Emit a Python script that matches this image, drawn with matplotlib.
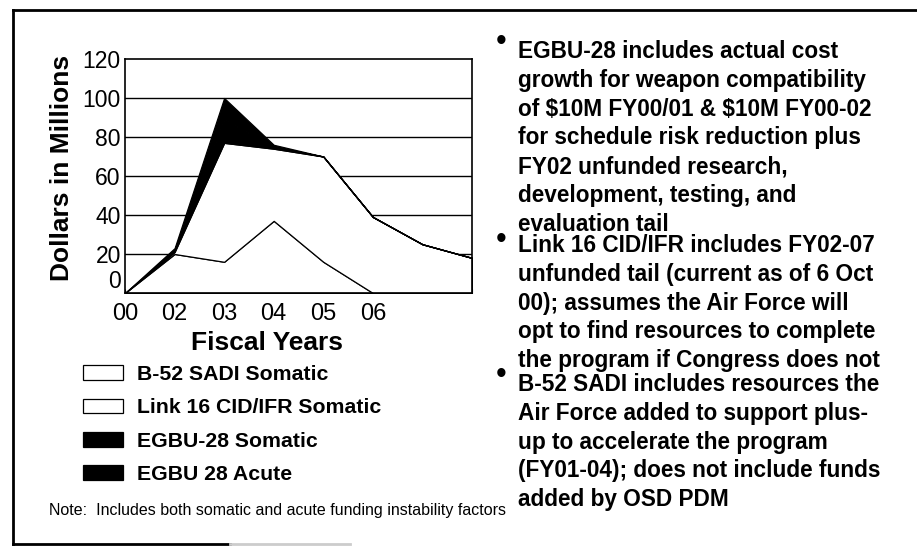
import matplotlib
matplotlib.use("Agg")
from matplotlib import pyplot as plt
from matplotlib.lines import Line2D

# data (stacked, $M)
years = ["00", "02", "03", "04", "05", "06", "", ""]
b52_sadi = [0, 20, 16, 37, 16, 0, 0, 0]
link16 = [0, 1, 61, 37, 54, 39, 25, 18]
egbu_somatic = [0, 1, 12, 1, 0, 0, 0, 0]
egbu_acute = [0, 1, 11, 1, 0, 0, 0, 0]
labels = ["B-52 SADI Somatic", "Link 16 CID/IFR Somatic", "EGBU-28 Somatic", "EGBU 28 Acute"]

notes = [
    "EGBU-28 includes actual cost\ngrowth for weapon compatibility\nof \\$10M FY00/01 & \\$10M FY00-02\n"
    "for schedule risk reduction plus\nFY02 unfunded research,\ndevelopment, testing, and\nevaluation tail",
    "Link 16 CID/IFR includes FY02-07\nunfunded tail (current as of 6 Oct\n00); assumes the Air Force will\n"
    "opt to find resources to complete\nthe program if Congress does not",
    "B-52 SADI includes resources the\nAir Force added to support plus-\nup to accelerate the program\n"
    "(FY01-04); does not include funds\nadded by OSD PDM",
]

plt.rcParams["font.family"] = ["Liberation Sans", "DejaVu Sans"]

W, H = 917, 546
fig = plt.figure(figsize=(W / 100, H / 100), dpi=100)


def fx(x):
    return x / W


def fy(y):
    return 1 - y / H


ax = fig.add_axes([fx(125), fy(293), fx(472) - fx(125), fy(59) - fy(293)])
x = list(range(len(years)))
polys = ax.stackplot(x, b52_sadi, link16, egbu_somatic, egbu_acute,
                     colors=["white", "white", "black", "black"],
                     edgecolor="black", linewidth=0.9, labels=labels, zorder=2)

for g in [20, 40, 60, 80, 100]:
    ax.axhline(g, color="black", linewidth=1.0, zorder=1)

ax.set_xlim(0, 7)
ax.set_ylim(0, 120)
ax.set_xticks(x)
ax.set_xticklabels(years, fontsize=17)
ax.set_yticks([0, 20, 40, 60, 80, 100, 120])
ax.set_yticklabels(["0", "20", "40", "60", "80", "100", "120"], fontsize=16.5)
ax.get_yticklabels()[0].set_va("bottom")
ax.tick_params(axis="x", direction="in", length=3, pad=7)
ax.tick_params(axis="y", length=0, pad=3)
for s in ax.spines.values():
    s.set_linewidth(1.2)
    s.set_zorder(3)

fig.text(fx(62), fy(168), "Dollars in Millions", rotation=90, fontsize=19,
         fontweight="bold", ha="center", va="center")
fig.text(fx(267), fy(343), "Fiscal Years", fontsize=19, fontweight="bold",
         ha="center", va="center")

fig.legend(handles=polys, labels=labels, loc="upper left",
           bbox_to_anchor=(fx(83), fy(365)), frameon=False,
           prop={"size": 15.3, "weight": "bold"}, handlelength=1.9,
           handleheight=0.7, labelspacing=0.68, handletextpad=0.65,
           borderpad=0, borderaxespad=0)

fig.text(fx(49), fy(510), "Note:  Includes both somatic and acute funding instability factors",
         fontsize=11.5, ha="left", va="center")

tops = [40, 234, 373]
bullets = [42, 240, 375]
for t, b, n in zip(tops, bullets, notes):
    fig.text(fx(496), fy(b), "\u2022", fontsize=22, ha="left", va="center")
    fig.text(fx(518), fy(t), n, fontsize=16.3, fontweight="bold", ha="left",
             va="top", linespacing=1.32)

# scanned page frame
fig.add_artist(Line2D([fx(13), fx(13)], [fy(10), fy(544)], color="black", linewidth=2))
fig.add_artist(Line2D([fx(13), 1], [fy(10), fy(10)], color="black", linewidth=2))
fig.add_artist(Line2D([fx(13), fx(230)], [fy(544), fy(544)], color="black", linewidth=2))
fig.add_artist(Line2D([fx(230), fx(350)], [fy(544), fy(544)], color="#cccccc", linewidth=2))

fig.savefig("out.png", dpi=100)
